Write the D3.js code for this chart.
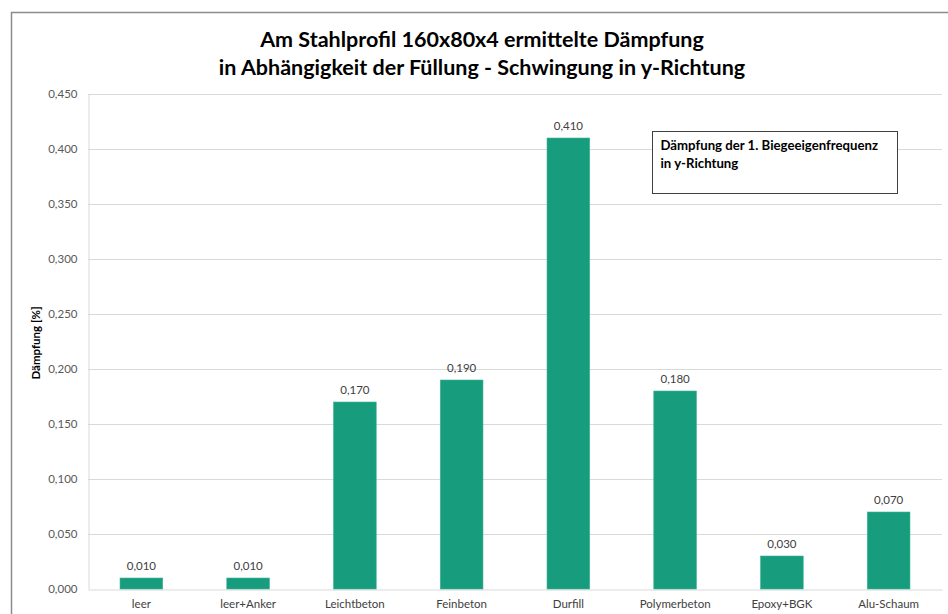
<!DOCTYPE html>
<html>
<head>
<meta charset="utf-8">
<script src="https://cdn.jsdelivr.net/npm/d3@7"></script>
<style>
  body { margin: 0; background: #fff; }
  svg { display: block; font-family: Lato, "Open Sans", sans-serif; }
</style>
</head>
<body>
<div id="chart"></div>
<script>
const categories = ["leer", "leer+Anker", "Leichtbeton", "Feinbeton", "Durfill", "Polymerbeton", "Epoxy+BGK", "Alu-Schaum"];
const values = [0.010, 0.010, 0.170, 0.190, 0.410, 0.180, 0.030, 0.070];
const yTicks = [0, 0.05, 0.1, 0.15, 0.2, 0.25, 0.3, 0.35, 0.4, 0.45];
const titleLines = ["Am Stahlprofil 160x80x4 ermittelte Dämpfung", "in Abhängigkeit der Füllung - Schwingung in y-Richtung"];
const legendLines = ["Dämpfung der 1. Biegeeigenfrequenz", "in y-Richtung"];

const width = 948;
const height = 614;
const margin = { top: 94, right: 6, bottom: 25, left: 88 };

const fmt = (v) => v.toFixed(3).replace(".", ",");

const svg = d3.select("#chart")
  .append("svg")
  .attr("width", width)
  .attr("height", height);

// outer chart frame (cut off by the picture at right/bottom)
svg.append("path")
  .attr("d", `M11.5,${height} V12.5 H${width}`)
  .attr("fill", "none")
  .attr("stroke", "#8c8c8c")
  .attr("stroke-width", 1.5);

// title
svg.append("g")
  .selectAll("text")
  .data(titleLines)
  .enter()
  .append("text")
  .attr("x", 482)
  .attr("y", (d, i) => 47 + i * 28)
  .attr("text-anchor", "middle")
  .attr("font-size", 21.5)
  .attr("font-weight", "bold")
  .attr("fill", "#000")
  .text((d) => d);

const xScale = d3.scaleBand()
  .domain(categories)
  .range([margin.left, width - margin.right])
  .paddingInner(0.6)
  .paddingOuter(0.3);

const yScale = d3.scaleLinear()
  .domain([0, 0.45])
  .range([height - margin.bottom, margin.top]);

// gridlines
svg.append("g")
  .selectAll("line")
  .data(yTicks.slice(1))
  .enter()
  .append("line")
  .attr("x1", margin.left)
  .attr("x2", width - margin.right)
  .attr("y1", (d) => Math.round(yScale(d)) + 0.5)
  .attr("y2", (d) => Math.round(yScale(d)) + 0.5)
  .attr("stroke", "#d9d9d9")
  .attr("stroke-width", 1);

// y axis
const yAxis = d3.axisLeft(yScale)
  .tickValues(yTicks)
  .tickFormat(fmt)
  .tickSize(0)
  .tickPadding(11);

const gy = svg.append("g")
  .attr("transform", `translate(${margin.left + 0.5}, 0)`)
  .call(yAxis);
gy.select(".domain").attr("stroke", "#d9d9d9");
gy.selectAll(".tick text")
  .attr("font-family", "Lato, sans-serif")
  .attr("font-size", 11.5)
  .attr("fill", "#595959");

// x axis
const xAxis = d3.axisBottom(xScale).tickSize(0).tickPadding(10);
const gx = svg.append("g")
  .attr("transform", `translate(0, ${height - margin.bottom + 0.5})`)
  .call(xAxis);
gx.select(".domain").attr("stroke", "#d9d9d9");
gx.selectAll(".tick text")
  .attr("font-family", "Lato, sans-serif")
  .attr("font-size", 11.5)
  .attr("fill", "#404040");

// y axis title
svg.append("text")
  .attr("transform", "translate(40, 343) rotate(-90)")
  .attr("text-anchor", "middle")
  .attr("font-size", 11.5)
  .attr("font-weight", "bold")
  .attr("fill", "#000")
  .text("Dämpfung [%]");

// bars
svg.append("g")
  .selectAll("rect")
  .data(values)
  .enter()
  .append("rect")
  .attr("x", (d, i) => xScale(categories[i]))
  .attr("y", (d) => yScale(d))
  .attr("width", xScale.bandwidth())
  .attr("height", (d) => yScale(0) - yScale(d))
  .attr("fill", "#179c7d")
  .attr("stroke", "#3fb597")
  .attr("stroke-width", 0.6);

// data labels
svg.append("g")
  .selectAll("text")
  .data(values)
  .enter()
  .append("text")
  .attr("x", (d, i) => xScale(categories[i]) + xScale.bandwidth() / 2)
  .attr("y", (d) => yScale(d) - 8)
  .attr("text-anchor", "middle")
  .attr("font-size", 11.5)
  .attr("fill", "#404040")
  .text(fmt);

// legend box
const legend = svg.append("g").attr("transform", "translate(652.5, 131.5)");
legend.append("rect")
  .attr("width", 245)
  .attr("height", 62)
  .attr("fill", "#fff")
  .attr("stroke", "#404040")
  .attr("stroke-width", 1);
legend.selectAll("text")
  .data(legendLines)
  .enter()
  .append("text")
  .attr("x", 8)
  .attr("y", (d, i) => 18 + i * 18)
  .attr("font-size", 13.2)
  .attr("font-weight", "bold")
  .attr("fill", "#000")
  .text((d) => d);
</script>
</body>
</html>
